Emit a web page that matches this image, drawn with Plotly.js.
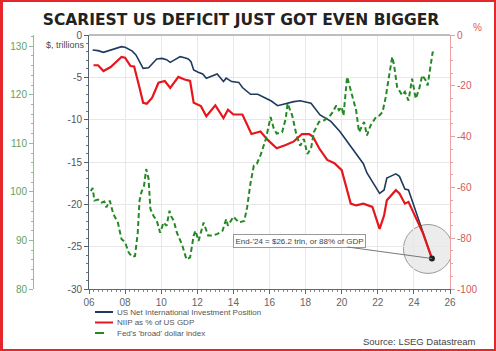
<!DOCTYPE html>
<html>
<head>
<meta charset="utf-8">
<script src="https://cdn.plot.ly/plotly-3.0.1.min.js"></script>
<style>
  html, body { margin: 0; padding: 0; background: #fff; }
  #wrap { position: relative; width: 496px; height: 351px; overflow: hidden; }
  #chart { position: absolute; left: 0; top: 0; width: 496px; height: 351px; }
  #frame { position: absolute; left: 0; top: 0; width: 496px; height: 351px; box-sizing: border-box;
           border: 2px solid #e5262b; border-left-width: 3px; pointer-events: none; }
</style>
</head>
<body>
<div id="wrap"><div id="chart"></div><div id="frame"></div></div>
<script>
// ---------------- DATA ----------------
const niipYears = [2006.2, 2006.5, 2006.8, 2007.25, 2007.6, 2007.8, 2008.0, 2008.4, 2008.6, 2009.0, 2009.3, 2009.5, 2009.75,
  2010.05, 2010.3, 2010.5, 2010.8, 2011.05, 2011.3, 2011.5, 2011.65, 2011.8, 2012.05, 2012.3, 2012.5, 2012.9, 2013.1,
  2013.45, 2013.6, 2013.9, 2014.3, 2014.5, 2014.95, 2015.35, 2015.7, 2016.1, 2016.45, 2016.95, 2017.35, 2017.7, 2018.0,
  2018.3, 2018.8, 2019.4, 2019.9, 2020.5, 2021.2, 2021.4, 2022.1, 2022.35, 2022.5, 2022.7, 2023.0, 2023.2, 2023.5,
  2023.7, 2024.85, 2025.0];
const niipTrillions = [-1.77, -1.85, -2.05, -1.77, -1.5, -1.38, -1.45, -1.9, -2.36, -3.94, -3.86, -3.35, -2.83,
  -2.76, -2.91, -3.23, -2.83, -2.56, -2.68, -2.83, -3.15, -4.13, -4.4, -4.6, -5.1, -4.8, -4.6,
  -5.5, -5.1, -5.5, -5.6, -6.2, -7.0, -7.0, -7.4, -7.8, -8.35, -8.07, -7.87, -7.76, -7.9,
  -8.07, -9.45, -10.2, -11.4, -13.2, -15.2, -16.3, -18.7, -18.3, -16.9, -16.7, -16.4, -16.7, -18.2,
  -18.3, -25.4, -26.4];

const gdpYears = [2006.25, 2006.5, 2006.8, 2007.2, 2007.8, 2008.0, 2008.3, 2008.5, 2008.8, 2009.0, 2009.2, 2009.5, 2009.85,
  2010.2, 2010.5, 2010.95, 2011.3, 2011.6, 2011.8, 2012.2, 2012.5, 2013.0, 2013.45, 2013.7, 2014.0, 2014.5, 2015.0,
  2015.5, 2015.9, 2016.4, 2016.9, 2017.35, 2017.8, 2018.2, 2018.4, 2018.75, 2019.2, 2019.6, 2020.0, 2020.5, 2020.8,
  2021.2, 2021.7, 2022.1, 2022.35, 2022.5, 2023.0, 2023.2, 2023.5, 2023.7, 2024.5, 2025.0];
const niipPctGdp = [-11.9, -11.9, -14.2, -12.6, -8.6, -8.9, -12.2, -12.4, -20.8, -26.7, -27.1, -24.7, -18.8,
  -18.1, -20.8, -16.5, -17.5, -18.1, -26.7, -28.0, -32.0, -27.7, -32.7, -29.4, -31.3, -31.3, -39.0,
  -38.0, -41.3, -44.6, -43.3, -41.9, -39.0, -39.0, -40.0, -44.6, -49.2, -50.5, -53.2, -66.4, -67.1,
  -66.4, -67.7, -76.3, -71.0, -65.1, -61.1, -62.4, -66.4, -65.7, -78.0, -88.0];

const usdYears = [2006.1, 2006.2, 2006.3, 2006.5, 2006.7, 2006.85, 2006.96, 2007.15, 2007.35, 2007.6, 2007.8, 2008.0,
  2008.2, 2008.4, 2008.55, 2008.7, 2008.8, 2008.9, 2009.05, 2009.17, 2009.3, 2009.4, 2009.57, 2009.76, 2009.94,
  2010.13, 2010.3, 2010.46, 2010.55, 2010.7, 2010.87, 2011.15, 2011.4, 2011.6, 2011.8, 2011.9, 2012.07, 2012.35,
  2012.6, 2012.8, 2013.1, 2013.4, 2013.6, 2013.7, 2014.0, 2014.3, 2014.6, 2014.76, 2014.94, 2015.13, 2015.3,
  2015.5, 2015.8, 2016.06, 2016.24, 2016.4, 2016.7, 2016.9, 2017.0, 2017.26, 2017.5, 2017.7, 2017.9, 2018.1,
  2018.3, 2018.46, 2018.74, 2019.0, 2019.3, 2019.5, 2019.7, 2019.85, 2020.0, 2020.1, 2020.3, 2020.5, 2020.8,
  2020.96, 2021.24, 2021.4, 2021.6, 2021.9, 2022.07, 2022.26, 2022.44, 2022.6, 2022.8, 2022.9, 2023.07, 2023.35,
  2023.5, 2023.7, 2023.9, 2024.1, 2024.3, 2024.46, 2024.65, 2024.76, 2024.9, 2025.04, 2025.13];
const usdIndex = [100.2, 100.8, 98.2, 98.4, 97.8, 98.0, 96.8, 98.2, 95.4, 93.7, 90.3, 89.6,
  87.5, 86.6, 86.8, 91.6, 98.2, 99.9, 101.3, 104.7, 102.7, 96.5, 95.1, 94.0, 91.6,
  93.7, 93.0, 96.1, 95.0, 94.0, 91.6, 89.2, 86.1, 86.5, 91.0, 92.0, 89.9, 93.7,
  91.0, 91.0, 91.3, 92.0, 94.4, 93.0, 94.9, 93.7, 94.0, 96.8, 101.6, 105.4, 105.8,
  107.5, 110.9, 115.4, 113.0, 112.0, 112.3, 115.1, 118.2, 115.7, 111.6, 109.5, 110.9, 107.8,
  108.9, 112.3, 114.4, 114.7, 115.4, 116.4, 117.8, 116.8, 117.5, 115.7, 123.7, 120.9, 116.8,
  112.3, 114.4, 111.6, 113.7, 115.4, 115.7, 116.4, 119.5, 123.3, 127.8, 126.1, 121.6, 119.9,
  120.6, 118.8, 123.3, 119.2, 121.3, 124.0, 123.0, 121.9, 125.4, 128.8, 128.5];

const xTickVals = [2006, 2008, 2010, 2012, 2014, 2016, 2018, 2020, 2022, 2024, 2026];
const xTickText = ['06', '08', '10', '12', '14', '16', '18', '20', '22', '24', '26'];
const leftTickVals = [0, -5, -10, -15, -20, -25, -30];
const leftTickText = ['0', '-5', '-10', '-15', '-20', '-25', '-30'];
const rightTickVals = [0, -20, -40, -60, -80, -100];
const rightTickText = ['0', '-20', '-40', '-60', '-80', '-100'];
const greenTickVals = [80, 90, 100, 110, 120, 130];
const greenTickText = ['80', '90', '100', '110', '120', '130'];

const seriesNames = ['US Net International Investment Position', 'NIIP as % of US GDP', "Fed's 'broad' dollar index"];
const titleText = 'SCARIEST US DEFICIT JUST GOT EVEN BIGGER';
const noteText = "End-'24 = $26.2 trln, or 88% of GDP";
const sourceText = 'Source: LSEG Datastream';

// ---------------- LAYOUT HELPERS ----------------
const W = 496, H = 351;
const M = { l: 33, r: 46, t: 35, b: 62 };
const PW = W - M.l - M.r, PH = H - M.t - M.b;
const px = x => (x - M.l) / PW;
const py = y => (H - M.b - y) / PH;

const NAVY = '#1f3a5f', RED = '#e5161c', GREEN = '#238a23';
const FONT = 'Liberation Sans, Arial, sans-serif';

const lastN = niipYears.length - 1;
const lastR = gdpYears.length - 1;

const traces = [
  { x: niipYears, y: niipTrillions, type: 'scatter', mode: 'lines', name: seriesNames[0],
    line: { color: NAVY, width: 1.6 }, xaxis: 'x', yaxis: 'y', hoverinfo: 'skip' },
  { x: gdpYears, y: niipPctGdp, type: 'scatter', mode: 'lines', name: seriesNames[1],
    line: { color: RED, width: 2.2 }, xaxis: 'x', yaxis: 'y2', hoverinfo: 'skip' },
  { x: [gdpYears[lastR]], y: [niipPctGdp[lastR]], type: 'scatter', mode: 'markers',
    marker: { color: '#222', size: 6 }, xaxis: 'x', yaxis: 'y2', hoverinfo: 'skip', showlegend: false },
  { x: usdYears, y: usdIndex, type: 'scatter', mode: 'lines', name: seriesNames[2],
    line: { color: GREEN, width: 2, dash: '5px,3px' }, xaxis: 'x', yaxis: 'y3', hoverinfo: 'skip' }
];

const legendRows = [312, 322.5, 333];
const legendColors = [NAVY, RED, GREEN];
const legendDash = ['solid', 'solid', 'dash'];

const shapes = [
  // top border of plot
  { type: 'line', xref: 'paper', yref: 'paper', x0: px(89), x1: 1, y0: 1, y1: 1,
    line: { color: '#bdbdbd', width: 2 } },
  // highlight circle
  { type: 'circle', xref: 'x', yref: 'y', x0: 2023.42, x1: 2026.14, y0: -28.16, y1: -22.38,
    fillcolor: 'rgba(200,200,200,0.35)', line: { color: '#9a9a9a', width: 1 }, layer: 'below' }
];
legendRows.forEach((yy, i) => {
  shapes.push({ type: 'line', xref: 'paper', yref: 'paper', x0: px(95), x1: px(113), y0: py(yy), y1: py(yy),
    line: { color: legendColors[i], width: 2, dash: legendDash[i] } });
});

const annotations = [
  { text: '$, trillions', xref: 'paper', yref: 'paper', x: px(65), y: py(45), showarrow: false,
    font: { family: FONT, size: 9, color: '#4a4a4a' }, xanchor: 'center', yanchor: 'middle' },
  { text: '%', xref: 'paper', yref: 'paper', x: px(477), y: py(27), showarrow: false,
    font: { family: FONT, size: 10, color: '#e05555' }, xanchor: 'center', yanchor: 'middle' },
  { text: sourceText, xref: 'paper', yref: 'paper', x: px(478), y: py(341), showarrow: false,
    font: { family: FONT, size: 9.5, color: '#444' }, xanchor: 'right', yanchor: 'middle' },
  { text: noteText, xref: 'x', yref: 'y', x: niipYears[lastN], y: niipTrillions[lastN],
    showarrow: true, arrowhead: 0, arrowwidth: 1, arrowcolor: '#777', ax: -132, ay: -18, standoff: 0,
    bgcolor: '#fff', bordercolor: '#999', borderwidth: 1, borderpad: 1.5,
    font: { family: FONT, size: 8, color: '#444' } }
];
legendRows.forEach((yy, i) => {
  annotations.push({ text: seriesNames[i], xref: 'paper', yref: 'paper', x: px(115), y: py(yy), showarrow: false,
    xanchor: 'left', yanchor: 'middle', font: { family: FONT, size: 8, color: '#555' } });
});

const layout = {
  width: W, height: H, margin: M, showlegend: false,
  paper_bgcolor: '#fff', plot_bgcolor: '#fff',
  font: { family: FONT, size: 10, color: '#555' },
  title: { text: titleText, font: { family: 'DejaVu Sans, sans-serif', size: 15.5, color: '#222', weight: 'bold' },
           x: 241 / W, xref: 'container', xanchor: 'center', y: 1 - 20 / H, yref: 'container', yanchor: 'middle' },
  xaxis: {
    domain: [px(89), 1], range: [2006, 2026], tickmode: 'array', tickvals: xTickVals, ticktext: xTickText,
    showgrid: true, gridcolor: '#e8e8e8', gridwidth: 1, zeroline: false,
    showline: true, linecolor: '#666', linewidth: 1, ticks: 'outside', ticklen: 4, tickcolor: '#666',
    minor: { dtick: 0.25, ticks: 'outside', ticklen: 2, tickcolor: '#888', showgrid: false },
    tickfont: { family: FONT, size: 10, color: '#666' }
  },
  yaxis: {
    range: [-30, 0], tickmode: 'array', tickvals: leftTickVals, ticktext: leftTickText,
    showgrid: true, gridcolor: '#e8e8e8', zeroline: false, anchor: 'x',
    showline: true, linecolor: '#55606e', linewidth: 1, ticks: 'outside', ticklen: 4, tickcolor: '#55606e',
    minor: { dtick: 1, ticks: 'outside', ticklen: 2, tickcolor: '#777', showgrid: false },
    tickfont: { family: FONT, size: 10, color: '#555' }
  },
  yaxis2: {
    range: [-100, 0], overlaying: 'y', side: 'right', anchor: 'x', tickmode: 'array',
    tickvals: rightTickVals, ticktext: rightTickText, showgrid: false, zeroline: false,
    showline: true, linecolor: '#eaa0a0', linewidth: 1, ticks: 'outside', ticklen: 4, tickcolor: '#eaa0a0',
    minor: { dtick: 5, ticks: 'outside', ticklen: 2, tickcolor: '#eaa0a0', showgrid: false },
    tickfont: { family: FONT, size: 10, color: '#d05a5a' }
  },
  yaxis3: {
    range: [80, 132.3], overlaying: 'y', side: 'left', anchor: 'free', position: 0, tickmode: 'array',
    tickvals: greenTickVals, ticktext: greenTickText, showgrid: false, zeroline: false,
    showline: true, linecolor: '#8cc08c', linewidth: 1, ticks: 'outside', ticklen: 4, tickcolor: '#8cc08c',
    minor: { dtick: 2, ticks: 'outside', ticklen: 2, tickcolor: '#8cc08c', showgrid: false },
    tickfont: { family: FONT, size: 10, color: '#5f9f5f' }
  },
  shapes: shapes,
  annotations: annotations
};

Plotly.newPlot('chart', traces, layout, { staticPlot: true, displayModeBar: false });
</script>
</body>
</html>
